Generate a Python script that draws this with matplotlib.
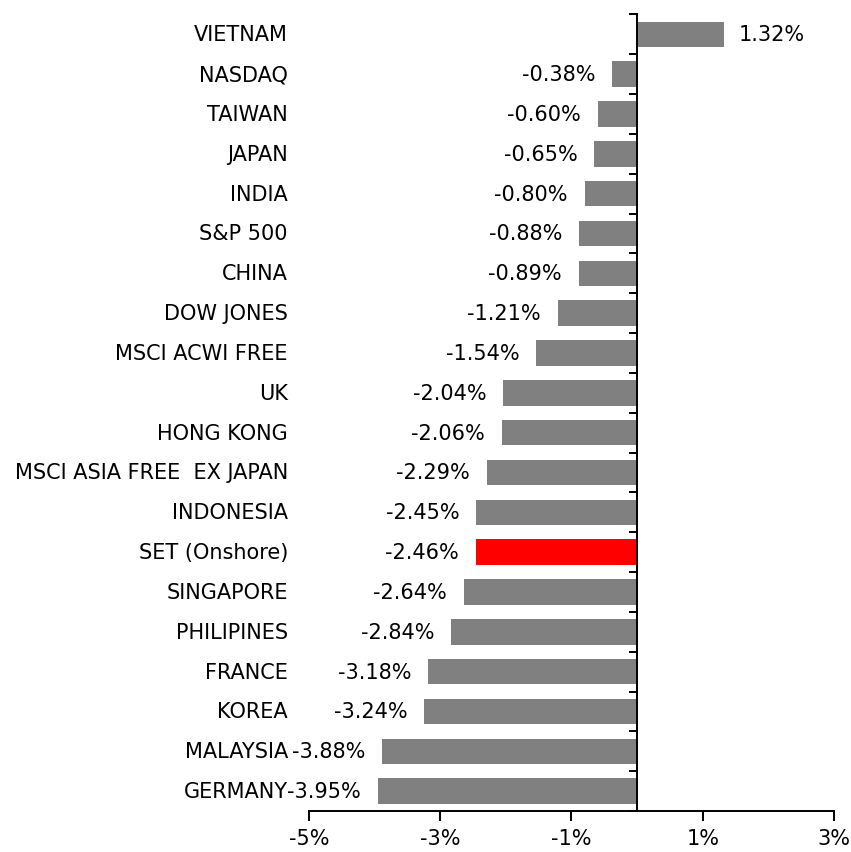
import numpy as np
import matplotlib.pyplot as plt
import matplotlib.transforms as mtransforms

markets = ["VIETNAM", "NASDAQ", "TAIWAN", "JAPAN", "INDIA", "S&P 500", "CHINA",
           "DOW JONES", "MSCI ACWI FREE", "UK", "HONG KONG",
           "MSCI ASIA FREE  EX JAPAN", "INDONESIA", "SET (Onshore)", "SINGAPORE",
           "PHILIPINES", "FRANCE", "KOREA", "MALAYSIA", "GERMANY"]
returns = [1.32, -0.38, -0.60, -0.65, -0.80, -0.88, -0.89, -1.21, -1.54, -2.04,
           -2.06, -2.29, -2.45, -2.46, -2.64, -2.84, -3.18, -3.24, -3.88, -3.95]
highlight = "SET (Onshore)"
x_ticks = [-5, -3, -1, 1, 3]

plt.rcParams['font.family'] = ['DejaVu Sans']
fs = 15

fig = plt.figure(figsize=(8.51, 8.53), dpi=100)
ax = fig.add_axes([0.363, 0.048, 0.617, 0.934])

pos = np.arange(len(markets))
colors = ['#ff0000' if m == highlight else '#808080' for m in markets]
ax.barh(pos, returns, height=0.64, color=colors)

ax.set_xlim(-5, 3)
ax.set_ylim(len(markets) - 0.5, -0.5)

# value labels at bar ends
for y, v in zip(pos, returns):
    off = 11 if v > 0 else -12
    ax.annotate(f"{v:.2f}%", (v, y), xytext=(off, 0), textcoords='offset points',
                ha='left' if v > 0 else 'right', va='center', fontsize=fs)

# category labels at the left of the plot area
trans = mtransforms.blended_transform_factory(ax.transAxes, ax.transData)
for y, m in zip(pos, markets):
    ax.text(-0.04, y, m, transform=trans, ha='right', va='center', fontsize=fs)

for s in ['top', 'right']:
    ax.spines[s].set_visible(False)
ax.spines['left'].set_position(('data', 0))
ax.spines['left'].set_linewidth(1.4)
ax.spines['bottom'].set_linewidth(1.4)

ax.set_yticks(pos)
ax.set_yticklabels([])
ax.tick_params(axis='y', which='major', length=0)
ax.set_yticks(np.arange(len(markets) + 1) - 0.5, minor=True)
ax.tick_params(axis='y', which='minor', length=6, width=1.4, direction='out')

ax.set_xticks(x_ticks)
ax.set_xticklabels([f"{t}%" for t in x_ticks], fontsize=fs)
ax.tick_params(axis='x', length=7, width=1.4, pad=5)

fig.savefig("out.png", dpi=100)
